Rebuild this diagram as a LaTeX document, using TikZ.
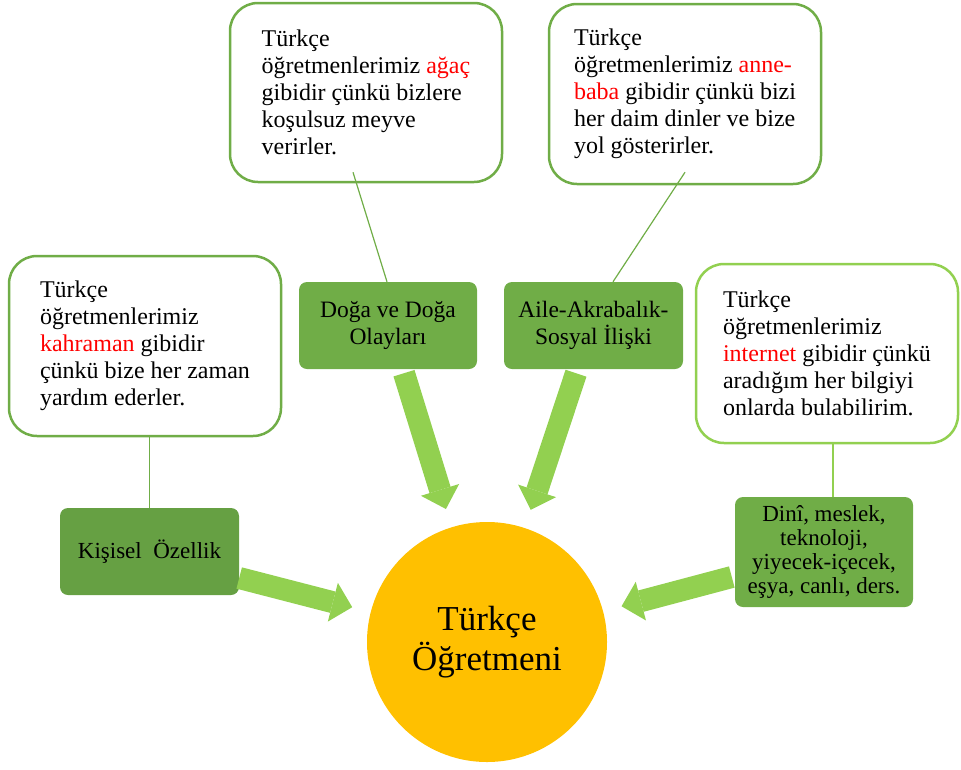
\documentclass[tikz,border=0pt]{standalone}
\usepackage{fontspec}
\setmainfont{Liberation Serif}
\usetikzlibrary{arrows.meta}
\definecolor{darkg}{HTML}{70AD47}
\definecolor{darkg2}{HTML}{66A043}
\definecolor{lightg}{HTML}{92D050}
\definecolor{gold}{HTML}{FFC000}
\definecolor{redt}{HTML}{FF0000}
\newcommand{\rd}[1]{\textcolor{redt}{#1}}
\begin{document}
\begin{tikzpicture}[x=1pt,y=-1pt,
 bubble/.style={draw=darkg, line width=2.5pt, fill=white, rounded corners=28pt, align=left, inner sep=0pt, font=\fontsize{24pt}{27pt}\selectfont},
 catbox/.style={fill=darkg, rounded corners=8pt, align=center, inner sep=0pt, minimum width=178pt, minimum height=87pt, font=\fontsize{23pt}{26.5pt}\selectfont},
 link/.style={draw=darkg, line width=1.2pt},
 blockarrow/.style={draw=lightg, line width=22pt, -{Triangle[width=40pt,length=20pt,line width=0pt]}, shorten >=19pt}
]
\useasboundingbox (0,0) rectangle (961,769);

% bubbles
\node[bubble, minimum width=272pt, minimum height=180pt] (lb) at (145,346)
 {Türkçe\\öğretmenlerimiz\\\rd{kahraman} gibidir\\çünkü bize her zaman\\yardım ederler.};
\node[bubble, minimum width=272pt, minimum height=179pt] (tb) at (366,92.5)
 {Türkçe\\öğretmenlerimiz \rd{ağaç}\\gibidir çünkü bizlere\\koşulsuz meyve\\verirler.};
\node[bubble, minimum width=272pt, minimum height=180pt] (tr) at (685,94)
 {Türkçe\\öğretmenlerimiz \rd{anne-}\\\rd{baba} gibidir çünkü bizi\\her daim dinler ve bize\\yol gösterirler.};
\node[bubble, draw=lightg, minimum width=262pt, minimum height=179pt] (rb) at (827,353.5)
 {Türkçe\\öğretmenlerimiz\\\rd{internet} gibidir çünkü\\aradığım her bilgiyi\\onlarda bulabilirim.};

% category boxes
\node[catbox, fill=darkg2, minimum width=179pt] (ko) at (149.5,551.5) {Kişisel\hspace{0.5em}Özellik};
\node[catbox, font=\fontsize{23.5pt}{27pt}\selectfont] (dg) at (388,325.5) {Doğa ve Doğa\\Olayları};
\node[catbox, font=\fontsize{23.5pt}{27pt}\selectfont, minimum width=179pt] (al) at (593.5,325.5) {Aile-Akrabalık-\\Sosyal İlişki};
\node[catbox, minimum height=110pt, font=\fontsize{23pt}{24pt}\selectfont] (di) at (824,552) {Dinî, meslek,\\teknoloji,\\yiyecek-içecek,\\eşya, canlı, ders.};

% centre
\node[circle, fill=gold, minimum size=240pt, inner sep=0pt, align=center, font=\fontsize{35pt}{40pt}\selectfont] (tc) at (487,642) {Türkçe\\Öğretmeni};

% thin connectors
\coordinate (tbc) at ([xshift=-13pt,yshift=11pt]tb.south);
\coordinate (trc) at ([yshift=13pt]tr.south);
\draw[link] (ko.north) -- (ko.north |- lb.south);
\draw[link] (tbc) -- ([xshift=-1pt]dg.north);
\draw[link] (trc) -- ([xshift=19.5pt]al.north);
\draw[link, draw=lightg] ([xshift=9pt]di.north) -- ([xshift=9pt]di.north |- rb.south);

% block arrows
\coordinate (koA) at ([yshift=-26.5pt]ko.east);
\coordinate (dgA) at ([xshift=16pt,yshift=-4pt]dg.south);
\coordinate (alA) at ([xshift=-17.5pt,yshift=-4pt]al.south);
\coordinate (diA) at ([xshift=-3pt,yshift=-25pt]di.west);
\draw[blockarrow] (koA) -- (tc);
\draw[blockarrow] (dgA) -- (tc);
\draw[blockarrow] (alA) -- (tc);
\draw[blockarrow] (diA) -- (tc);
\end{tikzpicture}
\end{document}
